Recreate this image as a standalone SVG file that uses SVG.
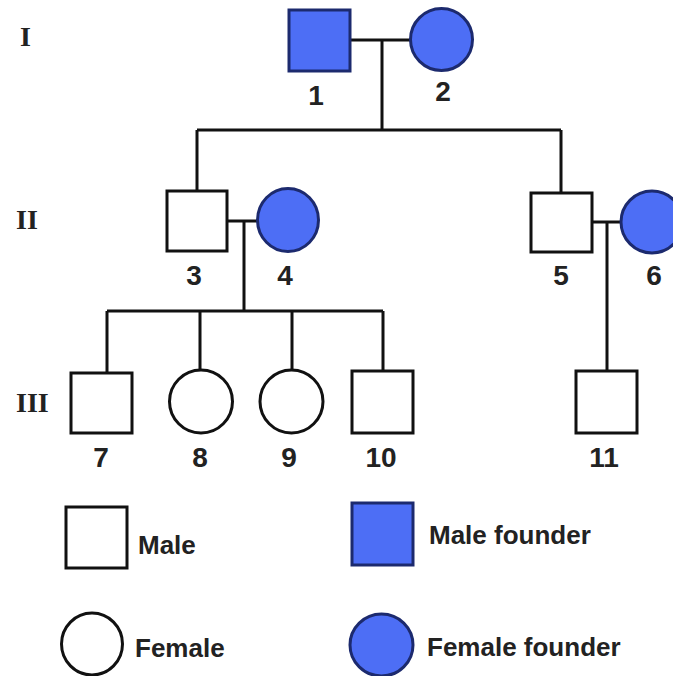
<svg xmlns="http://www.w3.org/2000/svg" width="673" height="676" viewBox="0 0 673 676">
<style>
.m{fill:#fff;stroke:#111;stroke-width:3}
.f{fill:#4d6ef5;stroke:#1c2a6e;stroke-width:3}
.ln{stroke:#111;stroke-width:3;fill:none}
.num{font-family:"Liberation Sans",Arial,sans-serif;font-weight:bold;font-size:28px;fill:#222;text-anchor:middle}
.gen{font-family:"Liberation Serif","Times New Roman",serif;font-weight:bold;font-size:28px;fill:#222}
.leg{font-family:"Liberation Sans",Arial,sans-serif;font-weight:bold;font-size:26px;fill:#222}
</style>
<rect width="673" height="676" fill="#fff"/>
<g id="gen-labels">
<text class="gen" x="20" y="46">I</text>
<text class="gen" x="16" y="229">II</text>
<text class="gen" x="16" y="412">III</text>
</g>
<g id="connectors">
<path class="ln" d="M350 40H410M382 40V130M197 130H561M197 130V191M561 130V193"/>
<path class="ln" d="M227 221H257M244 221V311M107 311H383M107 311V373M200 311V370M292 311V370M383 311V371"/>
<path class="ln" d="M592 222H621M607 222V371"/>
</g>
<g id="n1"><rect class="f" x="289" y="10" width="61" height="61"/><text class="num" x="316" y="105">1</text></g>
<g id="n2"><ellipse class="f" cx="441.5" cy="39.5" rx="31" ry="31"/><text class="num" x="443" y="101">2</text></g>
<g id="n3"><rect class="m" x="167" y="191" width="60" height="60"/><text class="num" x="194" y="285">3</text></g>
<g id="n4"><ellipse class="f" cx="288" cy="220" rx="30.5" ry="31.5"/><text class="num" x="285" y="285">4</text></g>
<g id="n5"><rect class="m" x="531" y="193" width="61" height="59"/><text class="num" x="561" y="285">5</text></g>
<g id="n6"><ellipse class="f" cx="652" cy="222" rx="31" ry="31"/><text class="num" x="654" y="285">6</text></g>
<g id="n7"><rect class="m" x="71" y="373" width="61" height="60"/><text class="num" x="101" y="467">7</text></g>
<g id="n8"><ellipse class="m" cx="201" cy="401.5" rx="31.5" ry="31.5"/><text class="num" x="200" y="467">8</text></g>
<g id="n9"><ellipse class="m" cx="291.5" cy="401.5" rx="31.5" ry="31.5"/><text class="num" x="289" y="467">9</text></g>
<g id="n10"><rect class="m" x="352" y="371" width="61" height="62"/><text class="num" x="381" y="467">10</text></g>
<g id="n11"><rect class="m" x="576" y="371" width="61" height="62"/><text class="num" x="604" y="467">11</text></g>
<g id="legend">
<rect class="m" x="66" y="507" width="61" height="61"/>
<text class="leg" x="138" y="554">Male</text>
<rect class="f" x="352" y="503" width="61" height="62"/>
<text class="leg" x="429" y="544">Male founder</text>
<ellipse class="m" cx="92" cy="644" rx="30.5" ry="31"/>
<text class="leg" x="135" y="657">Female</text>
<ellipse class="f" cx="381.5" cy="645" rx="31.5" ry="31"/>
<text class="leg" x="427" y="656">Female founder</text>
</g>
</svg>
